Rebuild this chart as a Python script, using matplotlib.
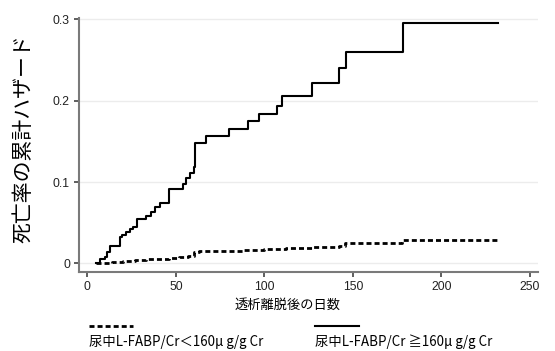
import matplotlib
matplotlib.use("Agg")
import matplotlib.pyplot as plt
from matplotlib.lines import Line2D

# cumulative hazard, L-FABP/Cr >= 160 (solid)
high_days = [5, 7, 10, 11, 13, 18.5, 19.5, 22, 24, 26, 28, 33, 36, 38, 41, 46, 54, 56, 58, 60,
             61, 67, 80, 91, 97, 107, 110, 127, 142, 146, 178, 232]
high_vals = [0.001, 0.005, 0.008, 0.014, 0.021, 0.032, 0.035, 0.038, 0.042, 0.045, 0.054, 0.058,
             0.063, 0.069, 0.0745, 0.091, 0.097, 0.1045, 0.111, 0.119, 0.1475, 0.1565, 0.1655,
             0.175, 0.184, 0.194, 0.206, 0.222, 0.240, 0.2595, 0.295, 0.295]

# cumulative hazard, L-FABP/Cr < 160 (dashed)
low_days = [5, 9, 14, 20, 27, 33, 40, 46, 52, 57, 60, 63, 75, 88, 100, 112, 127, 142, 145.5, 177.5, 232]
low_vals = [0.0, 0.001, 0.002, 0.003, 0.004, 0.005, 0.006, 0.007, 0.008, 0.009, 0.0135, 0.0148,
            0.0158, 0.0168, 0.018, 0.019, 0.0197, 0.022, 0.0246, 0.0287, 0.0287]

x_ticks = [0, 50, 100, 150, 200, 250]
y_ticks = [0, 0.1, 0.2, 0.3]
y_tick_labels = ["0", "0.1", "0.2", "0.3"]

label_low = "尿中L-FABP/Cr＜160μ g/g Cr"
label_high = "尿中L-FABP/Cr ≧160μ g/g Cr"

jp = ["Noto Sans CJK JP", "DejaVu Sans"]
num = ["Liberation Sans", "DejaVu Sans"]

W, H = 555, 351
fig = plt.figure(figsize=(W / 100, H / 100), dpi=100)
ax = fig.add_axes([79 / W, 1 - 271.7 / H, (538 - 79) / W, (271.7 - 17.7) / H])

ax.step(high_days, high_vals, where="post", color="black", lw=1.5)
ax.step(low_days, low_vals, where="post", color="black", lw=2.0, linestyle=(0, (1.8, 1.1)))

ax.set_xlim(-4.7, 254.5)
ax.set_ylim(-0.0102, 0.302)
ax.set_xticks(x_ticks)
ax.set_yticks(y_ticks)
ax.set_yticklabels(y_tick_labels)
ax.grid(axis="y", color="#ececec", lw=1)
ax.set_axisbelow(True)

for s in ["top", "right"]:
    ax.spines[s].set_visible(False)
for s in ["left", "bottom"]:
    ax.spines[s].set_color("#7a7a7a")
    ax.spines[s].set_linewidth(1.5)
ax.tick_params(length=3.5, width=1.1, color="#333333", labelcolor="#222222", pad=3)
for lab in ax.get_xticklabels() + ax.get_yticklabels():
    lab.set_family(num)
    lab.set_fontsize(8.8)

fig.text(23 / W, 1 - 139 / H, "死亡率の累計ハザード", rotation=90, ha="center", va="center",
         family=jp, fontsize=15)
fig.text(288 / W, 1 - 305 / H, "透析離脱後の日数", ha="center", va="center", family=jp, fontsize=9.5)

# legend (samples above labels)
yl = 1 - 326 / H
fig.add_artist(Line2D([89 / W, 133 / W], [yl, yl], color="black", lw=2.0, linestyle=(0, (1.8, 1.1))))
fig.add_artist(Line2D([315 / W, 359 / W], [yl, yl], color="black", lw=1.5))
fig.text(89 / W, 1 - 342 / H, label_low, ha="left", va="center", family=jp, fontsize=9.6)
fig.text(315 / W, 1 - 342 / H, label_high, ha="left", va="center", family=jp, fontsize=9.6)

fig.savefig("out.png", dpi=100)
